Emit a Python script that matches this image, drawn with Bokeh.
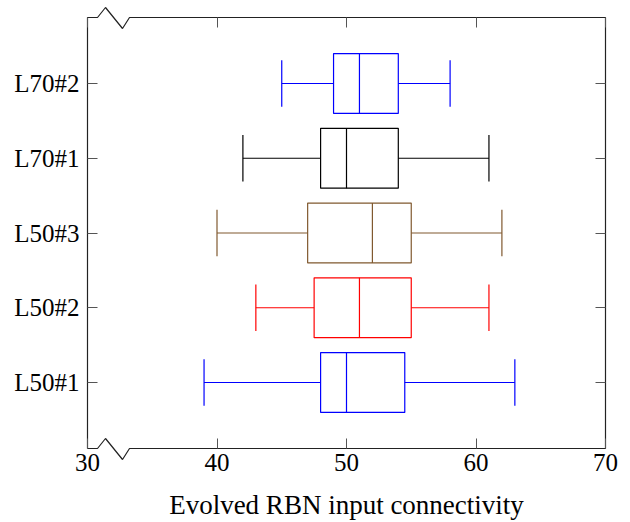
from bokeh.plotting import figure
from bokeh.models import ColumnDataSource, FixedTicker, LinearAxis, Range1d
from bokeh.embed import file_html
from bokeh.resources import INLINE

# ---- data ----
categories = ["L50#1", "L50#2", "L50#3", "L70#1", "L70#2"]
lower_whisker = [39, 43, 40, 42, 45]
q1 = [48, 47.5, 47, 48, 49]
median = [50, 51, 52, 50, 51]
q3 = [54.5, 55, 55, 54, 54]
upper_whisker = [63, 61, 62, 61, 58]
colors = ["#0000ff", "#ff0000", "#80592f", "#000000", "#0000ff"]
x_ticks = [30, 40, 50, 60, 70]

# ---- layout (visible box: left 87, right 605, top 17, bottom 448) ----
W, H = 630, 522
box_l, box_r, box_t, box_b = 87, 605, 17, 448
ex, ey = 3, 12  # frame extension so the axis-break zigzags are not clipped
X0, X1 = 30, 70
pad = 0.883
Y0, Y1 = 1 - pad, len(categories) + pad
px_x = (box_r - box_l) / (X1 - X0)
px_y = (box_b - box_t) / (Y1 - Y0)

FONT = "Liberation Serif"

p = figure(width=W, height=H, output_backend="svg", toolbar_location=None,
           x_range=Range1d(X0 - ex / px_x, X1 + ex / px_x),
           y_range=Range1d(Y0 - ey / px_y, Y1 + ey / px_y),
           min_border_left=box_l - ex, min_border_right=W - box_r - ex,
           min_border_top=box_t - ey, min_border_bottom=H - box_b - ey)
p.outline_line_color = None
p.grid.visible = False
p.background_fill_color = "white"
p.border_fill_color = "white"

ys = list(range(1, len(categories) + 1))
half_box = 0.4
half_cap = 0.31
src = ColumnDataSource(dict(
    y=ys, lw=lower_whisker, q1=q1, med=median, q3=q3, uw=upper_whisker, color=colors,
    ylo=[y - half_box for y in ys], yhi=[y + half_box for y in ys],
    clo=[y - half_cap for y in ys], chi=[y + half_cap for y in ys],
))

LW = 1.2
p.quad(left="q1", right="q3", bottom="ylo", top="yhi", source=src,
       fill_color=None, line_color="color", line_width=LW)
p.segment(x0="med", y0="ylo", x1="med", y1="yhi", source=src, line_color="color", line_width=LW)
p.segment(x0="lw", y0="y", x1="q1", y1="y", source=src, line_color="color", line_width=LW)
p.segment(x0="q3", y0="y", x1="uw", y1="y", source=src, line_color="color", line_width=LW)
p.segment(x0="lw", y0="clo", x1="lw", y1="chi", source=src, line_color="color", line_width=LW)
p.segment(x0="uw", y0="clo", x1="uw", y1="chi", source=src, line_color="color", line_width=LW)

# ---- axes ----
xax = p.xaxis[0]
xax.ticker = FixedTicker(ticks=x_ticks)
xax.axis_label = "Evolved RBN input connectivity"
yax = p.yaxis[0]
yax.ticker = FixedTicker(ticks=ys)
yax.major_label_overrides = {y: c for y, c in zip(ys, categories)}

right = LinearAxis(ticker=FixedTicker(ticks=ys))
top = LinearAxis(ticker=FixedTicker(ticks=x_ticks))
p.add_layout(right, "right")
p.add_layout(top, "above")

TICK = 10
for ax, e in [(xax, ey), (top, ey), (yax, ex), (right, ex)]:
    ax.axis_line_color = None
    ax.major_tick_out = -e
    ax.major_tick_in = e + TICK
    ax.major_tick_line_color = "#555555"
    ax.major_tick_line_width = 1
    ax.minor_tick_line_color = None
for ax in [right, top]:
    ax.major_label_text_font_size = "0px"
    ax.major_label_standoff = 0
    ax.major_label_text_color = None

xax.major_label_text_font = FONT
xax.major_label_text_font_size = "25px"
xax.major_label_text_color = "black"
xax.major_label_standoff = -7
xax.axis_label_text_font = FONT
xax.axis_label_text_font_size = "27px"
xax.axis_label_text_font_style = "normal"
xax.axis_label_text_color = "black"
xax.axis_label_standoff = 16
yax.major_label_text_font = FONT
yax.major_label_text_font_size = "25px"
yax.major_label_text_color = "black"
yax.major_label_standoff = 5

# ---- frame with axis-break zigzags (drawn inside the extended frame) ----
bx = [X0 + d / px_x for d in (10, 18, 35, 42)]
up, dn = 10 / px_y, 11 / px_y
frame_x = [X0, bx[0], bx[1], bx[2], bx[3], X1, X1, bx[3], bx[2], bx[1], bx[0], X0, X0]
frame_y = [Y0, Y0, Y0 + up, Y0 - dn, Y0, Y0, Y1, Y1, Y1 - dn, Y1 + up, Y1, Y1, Y0]
p.line(x=frame_x, y=frame_y, line_color="#222222", line_width=1.2)

open("out.html", "w").write(file_html(p, INLINE))
